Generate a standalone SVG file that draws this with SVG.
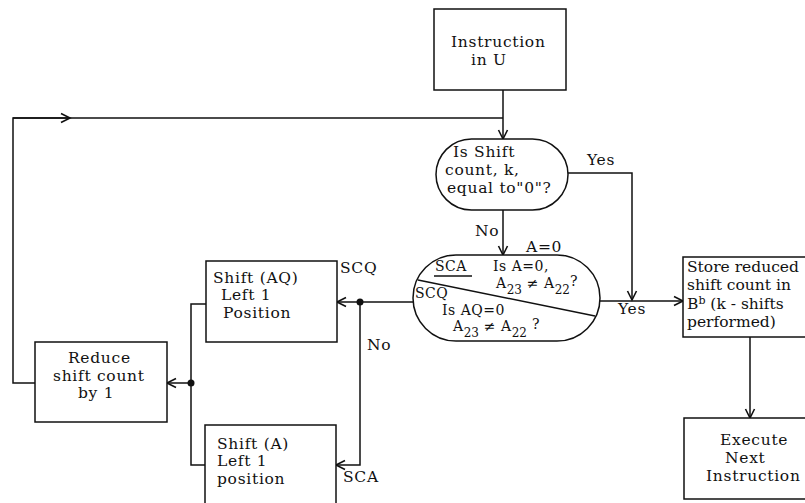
<svg xmlns="http://www.w3.org/2000/svg" width="805" height="503" viewBox="0 0 805 503">
<defs>
<style>
.b{fill:#fff;stroke:#111;stroke-width:1.5}
.c{fill:none;stroke:#111;stroke-width:1.5}
text{font-family:"DejaVu Serif","Liberation Serif",serif;font-size:15.5px;letter-spacing:0.7px;fill:#111}
.d{font-size:14px;letter-spacing:0.5px}
.s{font-size:12px;letter-spacing:0}
.sup{font-size:11px;letter-spacing:0}
.n{letter-spacing:0}
</style>
<marker id="ar" markerWidth="12" markerHeight="12" refX="10" refY="6" orient="auto" markerUnits="userSpaceOnUse">
<path d="M1,1.5 L10,6 L1,10.5" fill="none" stroke="#111" stroke-width="1.6"/>
</marker>
</defs>
<rect width="805" height="503" fill="#fff"/>
<g id="connectors">
<path class="c" d="M503,90 V139" marker-end="url(#ar)"/>
<path class="c" d="M35,383 H13 V118 H503"/>
<path class="c" d="M13,118 H70" marker-end="url(#ar)"/>
<path class="c" d="M503,210 V255" marker-end="url(#ar)"/>
<path class="c" d="M568,173 H632 V300" marker-end="url(#ar)"/>
<path class="c" d="M600,301 H683" marker-end="url(#ar)"/>
<path class="c" d="M750,337 V418" marker-end="url(#ar)"/>
<path class="c" d="M413,302 H337" marker-end="url(#ar)"/>
<path class="c" d="M360,302 V465 H336" marker-end="url(#ar)"/>
<path class="c" d="M206,304 H191 V465 H205"/>
<path class="c" d="M191,383 H167" marker-end="url(#ar)"/>
<circle cx="360" cy="302" r="3.5" fill="#111"/>
<circle cx="191" cy="383" r="3.5" fill="#111"/>
<text x="587" y="165">Yes</text>
<text x="475" y="236">No</text>
<text x="618" y="314">Yes</text>
<text x="367" y="350">No</text>
<text x="340" y="273">SCQ</text>
<text x="343" y="482">SCA</text>
</g>
<g id="instr">
<rect class="b" x="434" y="9" width="132" height="81"/>
<text x="451" y="47">Instruction</text>
<text x="471" y="65">in U</text>
</g>
<g id="dec1">
<rect class="b" x="436" y="139" width="132" height="71" rx="35.5"/>
<text x="453" y="157">Is Shift</text>
<text x="445" y="175">count, k,</text>
<text x="447" y="193">equal to"0"?</text>
</g>
<g id="dec2">
<rect class="b" x="413" y="255" width="187" height="86" rx="43"/>
<line class="c" x1="418" y1="280" x2="595" y2="316"/>
<text x="526" y="252">A=0</text>
<text class="d" x="435" y="271">SCA</text>
<line class="c" x1="434" y1="276" x2="472" y2="276"/>
<text class="d" x="493" y="271">Is A=0,</text>
<text class="d" x="496" y="288">A<tspan class="s" dy="6">23</tspan><tspan dy="-6"> ≠ A</tspan><tspan class="s" dy="6">22</tspan><tspan dy="-8">?</tspan></text>
<text class="d" x="415" y="298">SCQ</text>
<text class="d" x="442" y="315">Is AQ=0</text>
<text class="d" x="453" y="331">A<tspan class="s" dy="6">23</tspan><tspan dy="-6"> ≠ A</tspan><tspan class="s" dy="6">22</tspan><tspan dy="-8"> ?</tspan></text>
</g>
<g id="store">
<rect class="b" x="683" y="257" width="130" height="80"/>
<text class="n" x="687" y="272">Store reduced</text>
<text class="n" x="687" y="290">shift count in</text>
<text class="n" x="687" y="309">B<tspan class="sup" dy="-5">b</tspan><tspan dy="5"> (k - shifts</tspan></text>
<text class="n" x="687" y="327">performed)</text>
</g>
<g id="execute">
<rect class="b" x="684" y="418" width="130" height="81"/>
<text x="720" y="445">Execute</text>
<text x="725" y="463">Next</text>
<text x="706" y="481">Instruction</text>
</g>
<g id="shiftAQ">
<rect class="b" x="206" y="261" width="131" height="81"/>
<text x="213" y="283">Shift (AQ)</text>
<text x="221" y="300">Left 1</text>
<text x="223" y="318">Position</text>
</g>
<g id="shiftA">
<rect class="b" x="205" y="425" width="131" height="85"/>
<text x="217" y="449">Shift (A)</text>
<text x="217" y="466">Left 1</text>
<text x="217" y="484">position</text>
</g>
<g id="reduce">
<rect class="b" x="35" y="342" width="132" height="80"/>
<text x="68" y="363">Reduce</text>
<text x="53" y="381">shift count</text>
<text x="78" y="398">by 1</text>
</g>
</svg>
